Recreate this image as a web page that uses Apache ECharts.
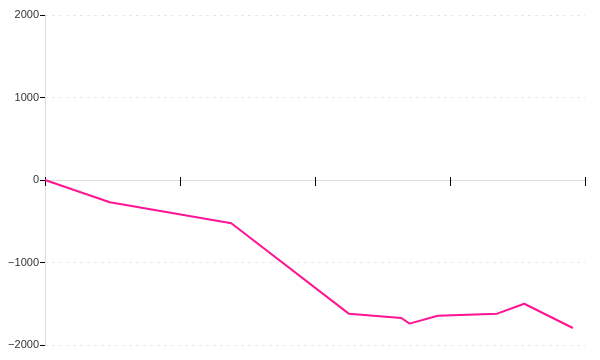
<!DOCTYPE html>
<html>
<head>
<meta charset="utf-8">
<script src="https://cdn.jsdelivr.net/npm/echarts@6/dist/echarts.min.js"></script>
<style>html,body{margin:0;padding:0;background:#fff}#c{width:600px;height:360px}</style>
</head>
<body>
<div id="c"></div>
<script>
var xValues = [0, 0.48, 1.38, 2.25, 2.64, 2.70, 2.91, 3.35, 3.55, 3.91];
var yValues = [0, -270, -525, -1620, -1673, -1741, -1645, -1620, -1500, -1794];
var yTicks = [-2000, -1000, 0, 1000, 2000];

var data = xValues.map(function (x, i) { return [x, yValues[i]]; });
var chart = echarts.init(document.getElementById('c'), null, {renderer: 'canvas'});
chart.setOption({
  animation: false,
  grid: {left: 45, right: 15, top: 15, bottom: 15, containLabel: false},
  xAxis: [{
    type: 'value', min: 0, max: 4, interval: 1,
    axisLine: {show: true, onZero: true, lineStyle: {color: '#dddddd', width: 1}},
    axisTick: {show: true, length: 6, lineStyle: {color: '#000', width: 1}},
    axisLabel: {show: false},
    splitLine: {show: false}
  }, {
    type: 'value', min: 0, max: 4, interval: 1, position: 'bottom', offset: -165,
    axisLine: {show: false, onZero: false},
    axisTick: {show: true, inside: true, length: 3, lineStyle: {color: '#000', width: 1}},
    axisLabel: {show: false},
    splitLine: {show: false}
  }],
  yAxis: {
    type: 'value', min: yTicks[0], max: yTicks[yTicks.length - 1], interval: 1000,
    axisLine: {show: true, onZero: false, lineStyle: {color: '#dddddd', width: 1}},
    axisTick: {show: true, length: 5, lineStyle: {color: '#000', width: 1}},
    axisLabel: {
      show: true, margin: 6, color: '#333', fontSize: 11,
      fontFamily: 'Liberation Sans, Arial, sans-serif',
      formatter: function (v) { return String(v).replace('-', '\u2212'); }
    },
    splitLine: {show: true, lineStyle: {color: '#e8e8e8', type: [3, 4], width: 1}}
  },
  series: [{
    type: 'line', data: data, xAxisIndex: 0,
    showSymbol: false, symbol: 'none',
    lineStyle: {color: '#ff1493', width: 2},
    itemStyle: {color: '#ff1493'}
  }]
});
</script>
</body>
</html>
